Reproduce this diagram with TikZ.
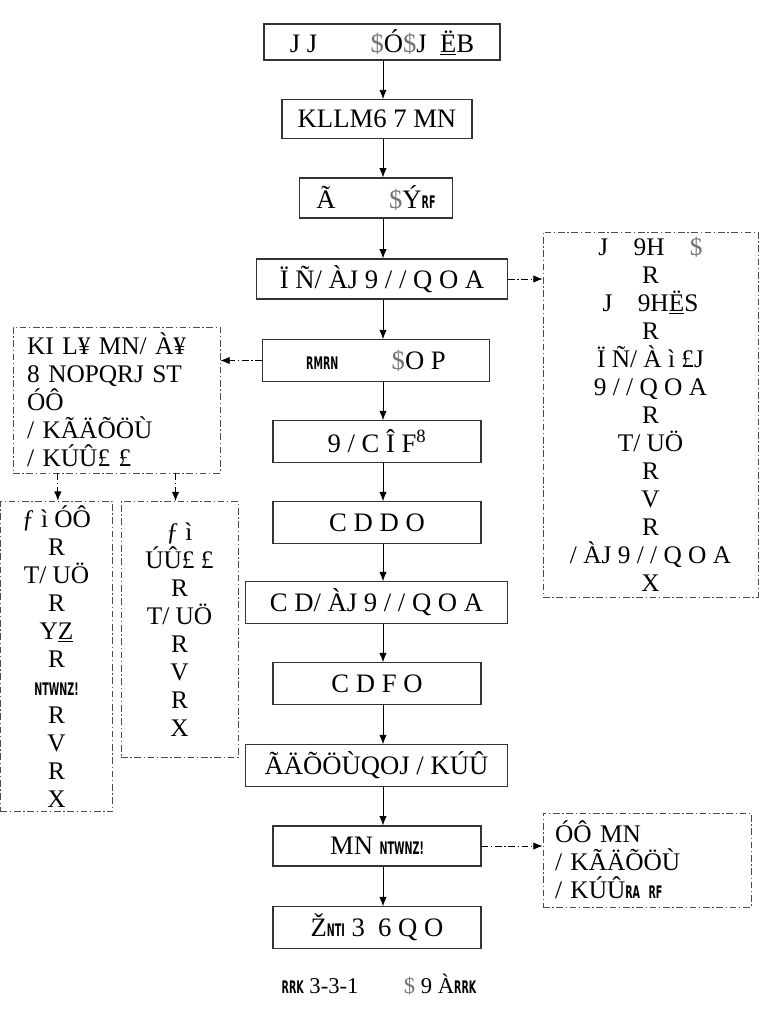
\documentclass[tikz,border=0pt]{standalone}
\usepackage{fontspec}
\setmainfont{Liberation Serif}
\newfontfamily\narrowfont[FakeStretch=0.55]{DejaVu Sans}
\usepackage{tikz}
\usetikzlibrary{arrows.meta,positioning}
\newcommand{\nr}[1]{{\narrowfont\bfseries\fontsize{13}{15}\selectfont #1}}
\newcommand{\dol}{{\color{black!55}\$}}
\tikzset{
  box/.style={draw=black!80,line width=0.8pt,rectangle,inner sep=0pt,
    font=\fontsize{20}{22}\selectfont},
  note/.style={draw=black!70,line width=0.6pt,
    dash pattern=on 5pt off 2pt on 1pt off 2pt,rectangle,inner sep=0pt,
    font=\fontsize{19}{21}\selectfont},
  flow/.style={-{Latex[length=7pt,width=5.5pt]},line width=0.7pt},
  side/.style={-{Latex[length=7pt,width=5.5pt]},line width=0.6pt,
    dash pattern=on 5pt off 2pt on 1pt off 2pt}
}
\begin{document}
\begin{tikzpicture}[x=0.75pt,y=-0.75pt]
\useasboundingbox (0,0) rectangle (764,1021);
\coordinate (spine) at (383,0);
% main column
\node (b1) [box,minimum width=177pt,minimum height=27pt] at (382,42) {J J\qquad \dol Ó\dol J\enspace\underline{Ë}B};
\node (b2) [box,minimum width=142.5pt,minimum height=29pt] at (377,119) {KLLM6 7 MN};
\node (b3) [box,minimum width=115pt,minimum height=30pt] at (376,198) {Ã\qquad \dol Ý\nr{RF}};
\node (b4) [box,minimum width=188pt,minimum height=30pt] at (382,279) {Ï Ñ/ ÀJ 9 / / Q O A};
\node (b5) [box,minimum width=170pt,minimum height=31pt] at (376,360.5) {\nr{RMRN}\qquad \dol O P};
\node (b6) [box,minimum width=156pt,minimum height=31pt] at (377,441.5) {9 / C Î F\textsuperscript{8}};
\node (b7) [box,minimum width=156pt,minimum height=31pt] at (377,522.5) {C D D O};
\node (b8) [box,minimum width=196pt,minimum height=31pt] at (376.5,602.5) {C D/ ÀJ 9 / / Q O A};
\node (b9) [box,minimum width=156pt,minimum height=31pt] at (377,683.5) {C D F O};
\node (b10) [box,minimum width=196pt,minimum height=31pt] at (376.5,765.5) {ÃÄÕÖÙQOJ / KÚÛ};
\node (b11) [box,minimum width=156pt,minimum height=30pt] at (377,846) {MN \nr{NTWNZ!}};
\node (b12) [box,minimum width=156pt,minimum height=31pt] at (377,927.5) {Ž\nr{NTI} 3\enspace 6 Q O};
\node (cap) at (379,985) [font=\fontsize{17}{19}\selectfont] {\nr{RRK} 3-3-1\qquad \dol\ 9 À\nr{RRK}};
% side notes
\node (rb) [note,minimum width=161.25pt,minimum height=273.75pt,align=center] at (650.5,414.5)
  {J\quad 9H\quad \dol\\ R\\ J\quad 9H\underline{Ë}S\\ R\\ Ï Ñ/ À ì £J\\ 9 / / Q O A\\ R\\ T/ UÖ\\ R\\ V\\ R\\ / ÀJ 9 / / Q O A\\ X};
\node (lu) [note,minimum width=155.25pt,minimum height=109.5pt,text width=134pt,align=left] at (116.5,400)
  {KI L¥ MN/ À¥\\ 8 NOPQRJ ST\\ ÓÔ\\ / KÃÄÕÖÙ\\ / KÚÛ£ £};
\node (la) [note,minimum width=84pt,minimum height=233pt,align=center] at (56.5,656.5)
  {ƒ ì ÓÔ\\ R\\ T/ UÖ\\ R\\ Y\underline{Z}\\ R\\ \nr{NTWNZ!}\\ R\\ V\\ R\\ X};
\node (lb) [note,minimum width=87.75pt,minimum height=192pt,align=center] at (179.5,629.5)
  {ƒ ì\\ ÚÛ£ £\\ R\\ T/ UÖ\\ R\\ V\\ R\\ X};
\node (br) [note,minimum width=156pt,minimum height=70.5pt,text width=138pt,align=left] at (647,860)
  {ÓÔ MN\\ / KÃÄÕÖÙ\\ / KÚÛ\nr{RA RF}};
% connectors
\draw[flow] (b1.south -| spine) -- (b2.north -| spine);
\draw[flow] (b2.south -| spine) -- (b3.north -| spine);
\draw[flow] (b3.south -| spine) -- (b4.north -| spine);
\draw[flow] (b4.south -| spine) -- (b5.north -| spine);
\draw[flow] (b5.south -| spine) -- (b6.north -| spine);
\draw[flow] (b6.south -| spine) -- (b7.north -| spine);
\draw[flow] (b7.south -| spine) -- (b8.north -| spine);
\draw[flow] (b8.south -| spine) -- (b9.north -| spine);
\draw[flow] (b9.south -| spine) -- (b10.north -| spine);
\draw[flow] (b10.south -| spine) -- (b11.north -| spine);
\draw[flow] (b11.south -| spine) -- (b12.north -| spine);
%
\draw[side] (b4.east) -- (b4.east -| rb.west);
\draw[side] (b5.west) -- (b5.west -| lu.east);
\draw[side] (b11.east) -- (b11.east -| br.west);
\draw[side] ([xshift=1pt]la.north |- lu.south) -- ([xshift=1pt]la.north);
\draw[side] ([xshift=-3pt]lb.north |- lu.south) -- ([xshift=-3pt]lb.north);
\end{tikzpicture}
\end{document}
